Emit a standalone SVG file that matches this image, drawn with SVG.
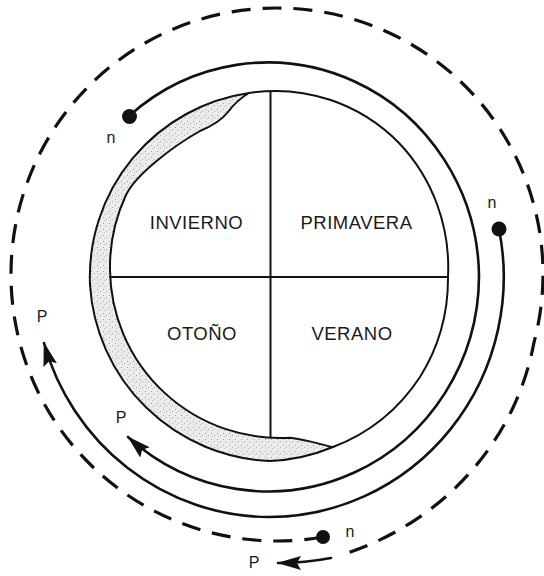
<svg xmlns="http://www.w3.org/2000/svg" width="544" height="576" viewBox="0 0 544 576">
<defs>
<style>
.ink{fill:none;stroke:#111;stroke-linecap:round;stroke-linejoin:round}
.thin{stroke-width:2}
.orbit{stroke-width:2.6}
.dash{fill:none;stroke:#111;stroke-width:3.2;stroke-dasharray:19 12}
.season{font-family:"Liberation Sans",Arial,Helvetica,sans-serif;font-size:18.5px;letter-spacing:0.5px;fill:#1a1a1a;text-anchor:middle}
.lbl{font-family:"Liberation Sans",Arial,Helvetica,sans-serif;font-size:16px;fill:#1a1a1a;text-anchor:middle}
.dot{fill:#111}
</style>
<pattern id="stipple" width="6" height="6" patternUnits="userSpaceOnUse">
<rect width="6" height="6" fill="#ececec"/>
<rect x="1" y="1" width="1" height="1" fill="#a0a0a0"/>
<rect x="4" y="3" width="1" height="1" fill="#acacac"/>
<rect x="2" y="4" width="1" height="1" fill="#c0c0c0"/>
</pattern>
<marker id="arrow" viewBox="0 0 24 14" refX="23" refY="7" markerWidth="24" markerHeight="14" markerUnits="userSpaceOnUse" orient="auto">
<path d="M0,0 L24,7 L0,14 L4,7 Z" fill="#111"/>
</marker>
</defs>
<rect width="544" height="576" fill="#fff"/>

<g id="disc">
<path id="crescent" class="ink thin" style="fill:url(#stipple)" d="M249,93 A186,186 0 0 0 90,285 A188,188 0 0 0 270,461 A184,184 0 0 0 333,447 C322,445 305,439 290,437.7 A170,170 0 0 1 110,270 A170,170 0 0 1 126,195 C135,176 170,148 200,131 C212,126 221,121 228,112 C234,104 242,97 249,93 Z"/>
<path id="outline" class="ink thin" d="M249,93 A174,176 0 0 1 399,143 A168,176 0 0 1 448,277 A172,180 0 0 1 420,377 A180,185 0 0 1 333,447"/>
<line class="ink thin" x1="110" y1="277" x2="448" y2="277"/>
<line class="ink thin" x1="270.5" y1="92" x2="270.5" y2="437"/>
</g>

<g id="invierno"><text class="season" x="196.5" y="229">INVIERNO</text></g>
<g id="primavera"><text class="season" x="356.5" y="229">PRIMAVERA</text></g>
<g id="otono"><text class="season" x="202" y="340">OTOÑO</text></g>
<g id="verano"><text class="season" x="352" y="339.5">VERANO</text></g>

<g id="connectors">
<path class="ink orbit" marker-end="url(#arrow)" d="M129,116 A211,216 0 0 1 479,276 A211,216 0 0 1 128,437"/>
<path class="ink orbit" marker-end="url(#arrow)" d="M499,229 A235,240 0 0 1 268,517 A235,240 0 0 1 44,343"/>
<path class="dash" d="M323,537 A266,266 0 0 1 11,274 A266,266 0 0 1 277,8 A266,266 0 0 1 543,274 A266,266 0 0 1 533.9,342.8 A269,269 0 0 1 512,409.7 A274,274 0 0 1 472.6,469.6 A279,279 0 0 1 418,518.1 A285,285 0 0 1 341.8,554.7"/>
<path class="ink orbit" marker-end="url(#arrow)" d="M331,558 A289,289 0 0 1 278,563"/>
<circle class="dot" cx="129.5" cy="116.5" r="7.5"/>
<circle class="dot" cx="499" cy="229" r="7.5"/>
<circle class="dot" cx="323" cy="537" r="7"/>
</g>

<g id="labels">
<text class="lbl" x="111" y="143">n</text>
<text class="lbl" x="492" y="208">n</text>
<text class="lbl" x="42" y="322">P</text>
<text class="lbl" x="121" y="423">P</text>
<text class="lbl" x="350" y="537">n</text>
<text class="lbl" x="254" y="568">P</text>
</g>
</svg>
